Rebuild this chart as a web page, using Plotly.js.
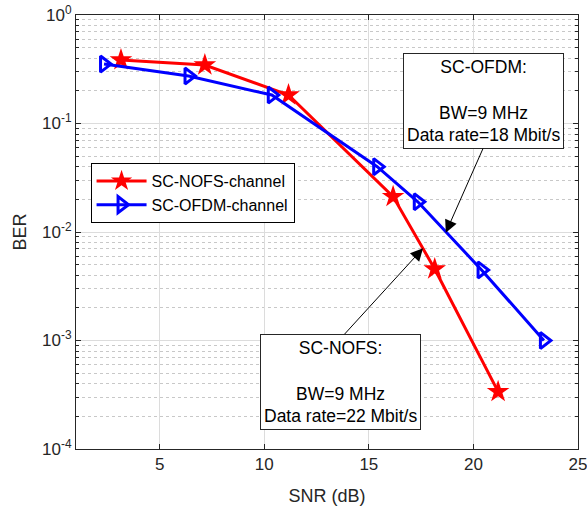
<!DOCTYPE html>
<html>
<head>
<meta charset="utf-8">
<script src="https://cdn.plot.ly/plotly-3.0.1.min.js"></script>
<style>html,body{margin:0;padding:0;background:#fff;}#chart{width:587px;height:508px;}</style>
</head>
<body>
<div id="chart"></div>
<script>
// SC-NOFS-channel series
const snrNofs = [3.15, 7.16, 11.16, 16.16, 18.15, 21.18];
const berNofs = [0.385, 0.346, 0.183, 0.0212, 0.00456, 0.000338];
// SC-OFDM-channel series
const snrOfdm = [2.34, 6.38, 10.36, 15.4, 17.34, 20.39, 23.37];
const berOfdm = [0.353, 0.274, 0.183, 0.04, 0.019, 0.00447, 0.001];
const seriesNames = ['SC-NOFS-channel', 'SC-OFDM-channel'];
// tick labels
const xTicks = [5, 10, 15, 20, 25];
const yTickVals = [1e-4, 1e-3, 1e-2, 1e-1, 1];
const yTickText = ['10<sup>-4</sup>', '10<sup>-3</sup>', '10<sup>-2</sup>', '10<sup>-1</sup>', '10<sup>0</sup>'];
const yMinorVals = [
  2e-4, 3e-4, 4e-4, 5e-4, 6e-4, 7e-4, 8e-4, 9e-4,
  2e-3, 3e-3, 4e-3, 5e-3, 6e-3, 7e-3, 8e-3, 9e-3,
  2e-2, 3e-2, 4e-2, 5e-2, 6e-2, 7e-2, 8e-2, 9e-2,
  0.2, 0.3, 0.4, 0.5, 0.6, 0.7, 0.8, 0.9
];
// annotation texts
const ofdmNote = 'SC-OFDM:<br> <br>BW=9 MHz<br>Data rate=18 Mbit/s';
const nofsNote = 'SC-NOFS:<br> <br>BW=9 MHz<br>Data rate=22 Mbit/s';

const FONT = 'Liberation Sans, Arial, Helvetica, sans-serif';
const AX = '#262626';

const traces = [
  {x: snrNofs, y: berNofs, name: seriesNames[0], type: 'scatter', mode: 'lines+markers',
   line: {color: '#ff0000', width: 3},
   marker: {symbol: 'star', size: 17, color: '#ff0000', line: {width: 0}}},
  {x: snrOfdm, y: berOfdm, name: seriesNames[1], type: 'scatter', mode: 'lines+markers',
   line: {color: '#0000ff', width: 3},
   marker: {symbol: 'triangle-right-open', size: 14, color: '#0000ff', line: {width: 3, color: '#0000ff'}}}
];

const layout = {
  width: 587, height: 508,
  margin: {l: 76, r: 9, t: 15, b: 59},
  paper_bgcolor: '#fff', plot_bgcolor: '#fff',
  font: {family: FONT, size: 16, color: AX},
  showlegend: true,
  legend: {x: 0.029, y: 0.659, xanchor: 'left', yanchor: 'top',
    bgcolor: '#fff', bordercolor: '#000', borderwidth: 1,
    font: {family: FONT, size: 16, color: '#000'}, itemwidth: 50, tracegroupgap: 0},
  xaxis: {
    type: 'linear', range: [1, 25], tickmode: 'array', tickvals: xTicks,
    ticklabeloverflow: 'allow',
    ticks: 'inside', ticklen: 5, tickcolor: AX, showline: true, linecolor: AX, linewidth: 1,
    mirror: 'allticks', showgrid: true, gridcolor: '#dcdcdc', gridwidth: 1, zeroline: false,
    tickfont: {family: FONT, size: 17, color: AX},
    title: {text: 'SNR (dB)', font: {family: FONT, size: 18, color: AX}, standoff: 15}
  },
  yaxis: {
    type: 'log', range: [-4, 0], tickmode: 'array', tickvals: yTickVals, ticktext: yTickText,
    ticklabeloverflow: 'allow',
    ticks: 'inside', ticklen: 5, tickcolor: AX, showline: true, linecolor: AX, linewidth: 1,
    mirror: 'allticks', showgrid: true, gridcolor: '#dcdcdc', gridwidth: 1, zeroline: false,
    tickfont: {family: FONT, size: 17, color: AX},
    minor: {tickmode: 'array', tickvals: yMinorVals, ticks: 'inside', ticklen: 3, tickcolor: AX,
      showgrid: true, gridcolor: '#c8c8c8', griddash: 'dot', gridwidth: 1},
    title: {text: 'BER', font: {family: FONT, size: 18, color: AX}, standoff: 10}
  },
  annotations: [
    {xref: 'x', yref: 'y', x: 20.50, y: -0.797, text: ofdmNote, showarrow: false,
     font: {family: FONT, size: 17.5, color: '#000'}, bordercolor: '#262626', borderwidth: 1,
     borderpad: 3, bgcolor: '#fff', align: 'center'},
    {xref: 'x', yref: 'y', x: 13.65, y: -3.378, text: nofsNote, showarrow: false,
     font: {family: FONT, size: 17.5, color: '#000'}, bordercolor: '#262626', borderwidth: 1,
     borderpad: 3, bgcolor: '#fff', align: 'center'},
    {xref: 'x', yref: 'y', x: 18.68, y: -2.006, axref: 'x', ayref: 'y', ax: 20.49, ay: -1.217,
     text: '', showarrow: true, arrowhead: 2, arrowsize: 2.5, arrowwidth: 1, arrowcolor: '#000', standoff: 0},
    {xref: 'x', yref: 'y', x: 17.59, y: -2.150, axref: 'x', ayref: 'y', ax: 13.77, ay: -2.956,
     text: '', showarrow: true, arrowhead: 2, arrowsize: 2.5, arrowwidth: 1, arrowcolor: '#000', standoff: 0}
  ]
};

Plotly.newPlot('chart', traces, layout, {displayModeBar: false, staticPlot: true});
</script>
</body>
</html>
